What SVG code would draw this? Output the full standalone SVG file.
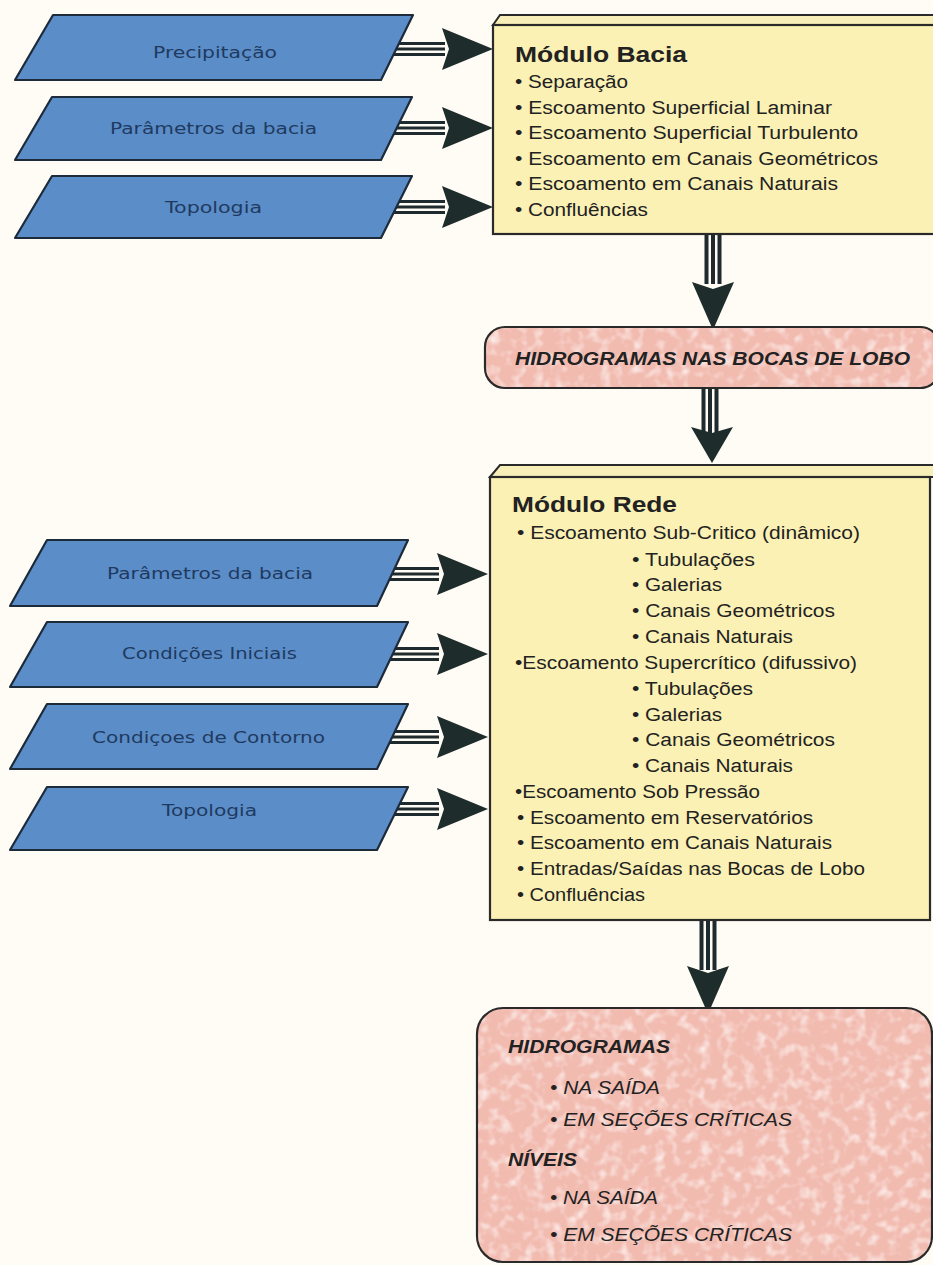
<svg xmlns="http://www.w3.org/2000/svg" width="933" height="1265" viewBox="0 0 933 1265">
<style>
.para{fill:#5b8dc8;stroke:#1c2a3a;stroke-width:2.2;stroke-linejoin:round}
.plab{font-family:"DejaVu Sans","Liberation Sans",sans-serif;font-size:16px;fill:#1f3a60;text-anchor:start}
.box{fill:#fbf1b4;stroke:#2a2a2a;stroke-width:2.2}
.topface{fill:#f8eeb8;stroke:#2a2a2a;stroke-width:2}
.pink{fill:#f2bbb0;stroke:#2a2a2a;stroke-width:2.2}
.t{font-family:"Liberation Sans",Arial,sans-serif;font-size:18px;fill:#222}
.ttl{font-family:"Liberation Sans",Arial,sans-serif;font-size:22px;font-weight:bold;fill:#222}
.bi{font-family:"Liberation Sans",Arial,sans-serif;font-size:18px;font-weight:bold;font-style:italic;fill:#222}
.i{font-family:"Liberation Sans",Arial,sans-serif;font-size:18px;font-style:italic;fill:#222}
.sk{fill:#1e2a2e}
.wh{fill:#fefcf4}
.head{fill:#1f2c2c}
</style>
<defs>
<filter id="mottle" x="0" y="0" width="100%" height="100%">
<feTurbulence type="fractalNoise" baseFrequency="0.09" numOctaves="2" seed="4" result="n"/>
<feColorMatrix in="n" type="matrix" values="0 0 0 0 1 0 0 0 0 1 0 0 0 0 1 2.2 0 0 0 -1.05" result="w"/>
<feComposite in="w" in2="SourceGraphic" operator="in"/>
</filter>
<g id="hshaft"><rect x="0" y="-7" width="52" height="14" class="sk"/><rect x="0" y="-4" width="52" height="2.5" class="wh"/><rect x="0" y="1.5" width="52" height="2.5" class="wh"/></g>
<polygon id="hhead" points="0,-21 51,0 0,21 7,0" class="head"/>
<g id="vshaft"><rect x="-8.5" y="0" width="17" height="50" class="sk"/><rect x="-4.5" y="0" width="2.5" height="50" class="wh"/><rect x="2" y="0" width="2.5" height="50" class="wh"/></g>
<polygon id="vhead" points="-21,0 0,7 21,0 0,48" class="head"/>
<polygon id="vhead2" points="-21,0 0,6 21,0 0,36" class="head"/>
</defs>
<rect x="0" y="0" width="933" height="1265" fill="#fefcf4"/>

<g id="connectors">
<use href="#hshaft" x="393" y="49"/><use href="#hhead" x="442" y="49"/>
<use href="#hshaft" x="393" y="128"/><use href="#hhead" x="442" y="128"/>
<use href="#hshaft" x="393" y="207"/><use href="#hhead" x="442" y="207"/>
<use href="#hshaft" x="387" y="574"/><use href="#hhead" x="437" y="574"/>
<use href="#hshaft" x="387" y="654"/><use href="#hhead" x="437" y="654"/>
<use href="#hshaft" x="387" y="737"/><use href="#hhead" x="437" y="737"/>
<use href="#hshaft" x="387" y="809"/><use href="#hhead" x="437" y="809"/>
<use href="#vshaft" x="713" y="234"/><use href="#vhead" x="713" y="282"/>
<use href="#vshaft" x="710" y="388"/><use href="#vhead2" x="712" y="427"/>
<use href="#vshaft" x="708" y="920"/><use href="#vhead" x="708" y="966"/>
</g>

<g id="in-precipitacao"><polygon class="para" points="53,15 413,15 381,80 15,80"/><text class="plab" x="153" y="58" textLength="124" lengthAdjust="spacingAndGlyphs">Precipitação</text></g>
<g id="in-parametros1"><polygon class="para" points="52,97 412,97 381,160 15,160"/><text class="plab" x="110" y="134" textLength="207" lengthAdjust="spacingAndGlyphs">Parâmetros da bacia</text></g>
<g id="in-topologia1"><polygon class="para" points="52,176 412,176 381,238 15,238"/><text class="plab" x="165" y="213" textLength="97" lengthAdjust="spacingAndGlyphs">Topologia</text></g>

<g id="in-parametros2"><polygon class="para" points="47,540 408,540 377,606 10,606"/><text class="plab" x="107" y="579" textLength="206" lengthAdjust="spacingAndGlyphs">Parâmetros da bacia</text></g>
<g id="in-condicoes"><polygon class="para" points="47,622 408,622 377,687 10,687"/><text class="plab" x="122" y="659" textLength="175" lengthAdjust="spacingAndGlyphs">Condições Iniciais</text></g>
<g id="in-contorno"><polygon class="para" points="47,704 408,704 377,769 10,769"/><text class="plab" x="92" y="743" textLength="233" lengthAdjust="spacingAndGlyphs">Condiçoes de Contorno</text></g>
<g id="in-topologia2"><polygon class="para" points="47,787 408,787 377,850 10,850"/><text class="plab" x="162" y="816" textLength="95" lengthAdjust="spacingAndGlyphs">Topologia</text></g>

<g id="modulo-bacia">
<polygon class="topface" points="493,25 500,15 945,15 945,25"/>
<rect class="box" x="493" y="25" width="452" height="209"/>
<text class="ttl" x="515" y="62" textLength="172" lengthAdjust="spacingAndGlyphs">Módulo Bacia</text>
<text class="t" x="515" y="88" textLength="113" lengthAdjust="spacingAndGlyphs">• Separação</text>
<text class="t" x="515" y="114" textLength="317" lengthAdjust="spacingAndGlyphs">• Escoamento Superficial Laminar</text>
<text class="t" x="515" y="139" textLength="343" lengthAdjust="spacingAndGlyphs">• Escoamento Superficial Turbulento</text>
<text class="t" x="515" y="165" textLength="363" lengthAdjust="spacingAndGlyphs">• Escoamento em Canais Geométricos</text>
<text class="t" x="515" y="190" textLength="323" lengthAdjust="spacingAndGlyphs">• Escoamento em Canais Naturais</text>
<text class="t" x="515" y="216" textLength="133" lengthAdjust="spacingAndGlyphs">• Confluências</text>
</g>

<g id="hidrogramas-bocas">
<rect class="pink" x="485" y="327" width="455" height="61" rx="20"/>
<rect x="486" y="328" width="453" height="59" rx="19" fill="#fff" filter="url(#mottle)" opacity="0.8"/>
<text class="bi" x="515" y="365" textLength="395" lengthAdjust="spacingAndGlyphs">HIDROGRAMAS NAS BOCAS DE LOBO</text>
</g>

<g id="modulo-rede">
<polygon class="topface" points="490,477 500,465 940,465 940,477"/>
<rect class="box" x="490" y="477" width="440" height="443"/>
<text class="ttl" x="512" y="512" textLength="165" lengthAdjust="spacingAndGlyphs">Módulo Rede</text>
<text class="t" x="517" y="539" textLength="343" lengthAdjust="spacingAndGlyphs">• Escoamento Sub-Critico (dinâmico)</text>
<text class="t" x="632" y="566" textLength="123" lengthAdjust="spacingAndGlyphs">• Tubulações</text>
<text class="t" x="632" y="591" textLength="90" lengthAdjust="spacingAndGlyphs">• Galerias</text>
<text class="t" x="632" y="617" textLength="203" lengthAdjust="spacingAndGlyphs">• Canais Geométricos</text>
<text class="t" x="632" y="643" textLength="161" lengthAdjust="spacingAndGlyphs">• Canais Naturais</text>
<text class="t" x="515" y="669" textLength="342" lengthAdjust="spacingAndGlyphs">•Escoamento Supercrítico (difussivo)</text>
<text class="t" x="632" y="695" textLength="121" lengthAdjust="spacingAndGlyphs">• Tubulações</text>
<text class="t" x="632" y="721" textLength="90" lengthAdjust="spacingAndGlyphs">• Galerias</text>
<text class="t" x="632" y="746" textLength="203" lengthAdjust="spacingAndGlyphs">• Canais Geométricos</text>
<text class="t" x="632" y="772" textLength="161" lengthAdjust="spacingAndGlyphs">• Canais Naturais</text>
<text class="t" x="515" y="798" textLength="245" lengthAdjust="spacingAndGlyphs">•Escoamento Sob Pressão</text>
<text class="t" x="517" y="824" textLength="296" lengthAdjust="spacingAndGlyphs">• Escoamento em Reservatórios</text>
<text class="t" x="517" y="849" textLength="315" lengthAdjust="spacingAndGlyphs">• Escoamento em Canais Naturais</text>
<text class="t" x="517" y="875" textLength="348" lengthAdjust="spacingAndGlyphs">• Entradas/Saídas nas Bocas de Lobo</text>
<text class="t" x="517" y="901" textLength="128" lengthAdjust="spacingAndGlyphs">• Confluências</text>
</g>

<g id="saidas">
<rect class="pink" x="477" y="1008" width="455" height="254" rx="26"/>
<rect x="478" y="1009" width="453" height="252" rx="25" fill="#fff" filter="url(#mottle)" opacity="0.8"/>
<text class="bi" x="508" y="1053" textLength="162" lengthAdjust="spacingAndGlyphs">HIDROGRAMAS</text>
<text class="i" x="550" y="1094" textLength="110" lengthAdjust="spacingAndGlyphs">• NA SAÍDA</text>
<text class="i" x="550" y="1126" textLength="242" lengthAdjust="spacingAndGlyphs">• EM SEÇÕES CRÍTICAS</text>
<text class="bi" x="508" y="1166" textLength="69" lengthAdjust="spacingAndGlyphs">NÍVEIS</text>
<text class="i" x="550" y="1204" textLength="108" lengthAdjust="spacingAndGlyphs">• NA SAÍDA</text>
<text class="i" x="550" y="1241" textLength="242" lengthAdjust="spacingAndGlyphs">• EM SEÇÕES CRÍTICAS</text>
</g>
</svg>
